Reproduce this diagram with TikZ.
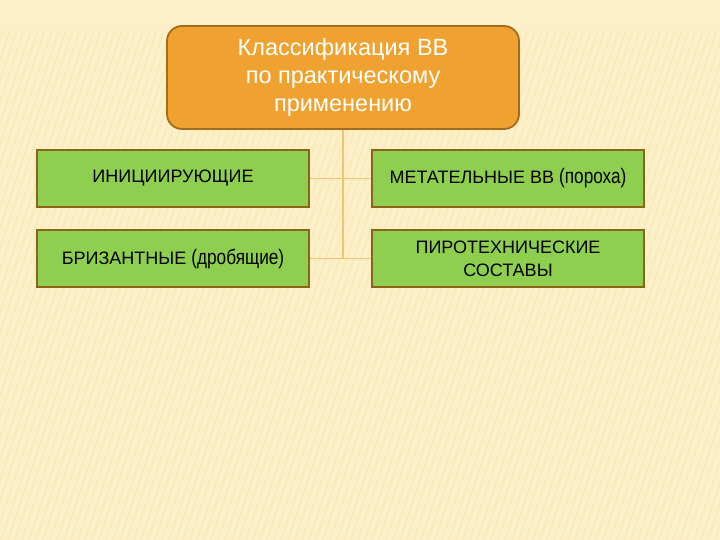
\documentclass[tikz,border=0pt]{standalone}
\usepackage{fontspec}
\setmainfont{Liberation Sans}
\newfontfamily\narrowfont[FakeStretch=0.82]{Liberation Sans}
\usetikzlibrary{positioning}
\pgfdeclarelayer{links}
\pgfsetlayers{links,main}

\definecolor{bgcream}{HTML}{FDF0C9}
\definecolor{bgstripe}{HTML}{F3DFA0}
\definecolor{topfill}{HTML}{EFA22F}
\definecolor{topline}{HTML}{A56B1C}
\definecolor{boxfill}{HTML}{8FCF4F}
\definecolor{boxline}{HTML}{8C6418}
\definecolor{linkline}{HTML}{F2C46E}

\begin{document}
\begin{tikzpicture}[
				x=1pt, y=-1pt,
				% the classification and its four kinds
				topbox/.style={draw=topline, line width=1.8pt, fill=topfill, rounded corners=15pt,
					minimum width=352pt, minimum height=103pt, align=center, text=white,
					font=\fontsize{23.5}{28}\selectfont},
				kindbox/.style={draw=boxline, line width=1.8pt, fill=boxfill,
					minimum width=272pt, minimum height=57pt, align=center, text=black,
					font=\fontsize{18}{23}\selectfont},
				link/.style={draw=linkline, line width=1.2pt}
				]
				\pgfmathsetmacro{\SlideWidth}{720}
				\pgfmathsetmacro{\SlideHeight}{540}
				% background
				\begin{pgfonlayer}{links}
					\fill[bgcream] (0,0) rectangle (\SlideWidth,\SlideHeight);
					\begin{scope}
						\clip (0,32) rectangle (\SlideWidth,\SlideHeight);
						\foreach \i in {-300,-293,...,720}
							\draw[bgstripe, line width=1.6pt, opacity=0.35] (\i,\SlideHeight) -- ++(180,-\SlideHeight);
					\end{scope}
				\end{pgfonlayer}
				\useasboundingbox (0,0) rectangle (\SlideWidth,\SlideHeight);
				\node[topbox] (Classif) at (343,77.5) {Классификация ВВ\\по практическому\\применению};
				\node[kindbox] (Init) at (173,178.5) {ИНИЦИИРУЮЩИЕ};
				\node[kindbox] (Metat) at (508,178.5) {МЕТАТЕЛЬНЫЕ ВВ {\narrowfont\fontsize{21}{26}\selectfont(пороха)}};
				\node[kindbox] (Briz) at (173,258.5) {БРИЗАНТНЫЕ {\narrowfont\fontsize{21}{26}\selectfont(дробящие)}};
				\node[kindbox] (Pirot) at (508,258.5) {ПИРОТЕХНИЧЕСКИЕ\\СОСТАВЫ};
				% connectors, kept under the boxes
				\begin{pgfonlayer}{links}
					\coordinate (LinkEnd) at (Classif.south |- Briz.east);
					\draw[link] (Classif.south) -- (LinkEnd);
					\draw[link] (Init.east) -- (Metat.west);
					\draw[link] (Briz.east) -- (Pirot.west);
				\end{pgfonlayer}
			\end{tikzpicture}
\end{document}
